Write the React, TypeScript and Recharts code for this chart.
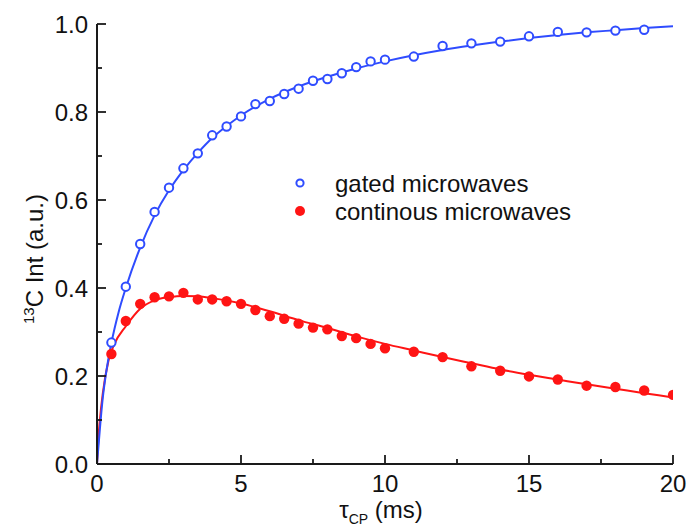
import React from 'react';
import { ComposedChart, Line, Scatter, XAxis, YAxis } from 'recharts';

// ---- data ----
const gatedT = [0.5, 1, 1.5, 2, 2.5, 3, 3.5, 4, 4.5, 5, 5.5, 6, 6.5, 7, 7.5, 8, 8.5, 9, 9.5, 10, 11, 12, 13, 14, 15, 16, 17, 18, 19];
const gatedInt = [0.276, 0.403, 0.5, 0.573, 0.628, 0.672, 0.706, 0.747, 0.767, 0.79, 0.818, 0.825, 0.841, 0.853, 0.871, 0.875, 0.888, 0.902, 0.915, 0.919, 0.926, 0.95, 0.956, 0.96, 0.972, 0.982, 0.981, 0.985, 0.987];

const contT = [0.5, 1, 1.5, 2, 2.5, 3, 3.5, 4, 4.5, 5, 5.5, 6, 6.5, 7, 7.5, 8, 8.5, 9, 9.5, 10, 11, 12, 13, 14, 15, 16, 17, 18, 19, 20];
const contInt = [0.25, 0.325, 0.364, 0.379, 0.381, 0.389, 0.374, 0.374, 0.37, 0.364, 0.35, 0.336, 0.33, 0.319, 0.31, 0.306, 0.291, 0.286, 0.273, 0.263, 0.255, 0.243, 0.222, 0.212, 0.199, 0.192, 0.178, 0.175, 0.167, 0.157];

const gatedFitT = [0, 0.1, 0.2, 0.3, 0.5, 0.75, 1, 1.5, 2, 2.5, 3, 3.5, 4, 4.5, 5, 6, 7, 8, 9, 10, 11, 12, 13, 14, 15, 16, 17, 18, 19, 20];
const gatedFitInt = [0, 0.08, 0.15, 0.2, 0.275, 0.345, 0.4, 0.492, 0.565, 0.622, 0.668, 0.707, 0.741, 0.768, 0.792, 0.83, 0.858, 0.88, 0.899, 0.915, 0.929, 0.941, 0.951, 0.96, 0.968, 0.975, 0.981, 0.986, 0.991, 0.995];

const contFitT = [0, 0.05, 0.1, 0.2, 0.4, 0.6, 1, 1.5, 2, 2.5, 3, 3.5, 4, 5, 6, 7, 8, 9, 10, 11, 12, 13, 14, 15, 16, 17, 18, 19, 20];
const contFitInt = [0, 0.06, 0.1, 0.16, 0.235, 0.272, 0.313, 0.353, 0.372, 0.379, 0.382, 0.381, 0.377, 0.365, 0.347, 0.327, 0.309, 0.29, 0.273, 0.258, 0.243, 0.229, 0.215, 0.203, 0.192, 0.181, 0.171, 0.161, 0.151];

const xTicks = [0, 2.5, 5, 7.5, 10, 12.5, 15, 17.5, 20];
const xMajor = [0, 5, 10, 15, 20];
const yTicks = [0, 0.1, 0.2, 0.3, 0.4, 0.5, 0.6, 0.7, 0.8, 0.9, 1.0];
const yMajor = [0, 0.2, 0.4, 0.6, 0.8, 1.0];

const seriesNames = ['gated microwaves', 'continous microwaves'];

const BLUE = '#2f4cff';
const RED = '#ff1414';
const AXIS = '#1a1a1a';
const FONT = '"Liberation Sans", Arial, Helvetica, sans-serif';

const toPoints = (ts: number[], vs: number[]) => ts.map((t, i) => ({ t, v: vs[i] }));
const gatedData = toPoints(gatedT, gatedInt);
const contData = toPoints(contT, contInt);
const gatedFit = toPoints(gatedFitT, gatedFitInt);
const contFit = toPoints(contFitT, contFitInt);

const isMajor = (list: number[], v: number) => list.some((m) => Math.abs(m - v) < 1e-6);
const fmtY = (v: number) => v.toFixed(1);

const BottomTick = (p: any) => {
  const v = p.payload.value;
  const major = isMajor(xMajor, v);
  return (
    <g>
      <line x1={p.x} x2={p.x} y1={p.y} y2={p.y - (major ? 9 : 5)} stroke={AXIS} strokeWidth={1.8} />
      {major && (
        <text x={p.x} y={p.y + 28} textAnchor="middle" fontSize={24} fontFamily={FONT} fill="#111">
          {String(v)}
        </text>
      )}
    </g>
  );
};

const TopTick = (p: any) => (
  <line x1={p.x} x2={p.x} y1={p.y} y2={p.y + 9} stroke={AXIS} strokeWidth={1.8} />
);

const LeftTick = (p: any) => {
  const v = p.payload.value;
  const major = isMajor(yMajor, v);
  return (
    <g>
      <line x1={p.x} x2={p.x + (major ? 9 : 5)} y1={p.y} y2={p.y} stroke={AXIS} strokeWidth={1.8} />
      {major && (
        <text x={p.x - 9} y={p.y + 8.6} textAnchor="end" fontSize={24} fontFamily={FONT} fill="#111">
          {fmtY(v)}
        </text>
      )}
    </g>
  );
};

const RightTick = (p: any) => (
  <line x1={p.x} x2={p.x - 9} y1={p.y} y2={p.y} stroke={AXIS} strokeWidth={1.8} />
);

const OpenCircle = (p: any) => (
  <circle cx={p.cx} cy={p.cy} r={4.2} fill="#fff" stroke={BLUE} strokeWidth={2} />
);
const FilledCircle = (p: any) => <circle cx={p.cx} cy={p.cy} r={5.2} fill={RED} />;

const YLabel = () => (
  <text
    x={43}
    y={259}
    transform="rotate(-90, 43, 259)"
    textAnchor="middle"
    fontSize={24}
    fontFamily={FONT}
    fill="#111"
  >
    <tspan fontSize={15} dy={-9}>13</tspan>
    <tspan dy={9}>C Int (a.u.)</tspan>
  </text>
);

const XLabel = () => (
  <text x={381} y={518} textAnchor="middle" fontSize={24} fontFamily={FONT} fill="#111">
    τ
    <tspan fontSize={14} dy={6}>CP</tspan>
    <tspan dy={-6}> (ms)</tspan>
  </text>
);

export default function App() {
  return (
    <div style={{ position: 'absolute', left: 0, top: 0, width: 687, height: 529, background: '#fff' }}>
      <ComposedChart width={687} height={529} margin={{ top: 24, right: 14, bottom: 35, left: 37 }}>
        <XAxis
          xAxisId="b"
          type="number"
          dataKey="t"
          domain={[0, 20]}
          allowDataOverflow
          ticks={xTicks}
          interval={0}
          tickSize={0}
          tickMargin={0}
          tickLine={false}
          tick={(p: any) => <BottomTick {...p} />}
          axisLine={{ stroke: AXIS, strokeWidth: 2 }}
          height={30}
          label={{ content: () => <XLabel /> }}
        />
        <XAxis
          xAxisId="t"
          orientation="top"
          type="number"
          dataKey="t"
          domain={[0, 20]}
          allowDataOverflow
          ticks={xTicks}
          interval={0}
          tickSize={0}
          tickMargin={0}
          tickLine={false}
          tick={(p: any) => <TopTick {...p} />}
          axisLine={{ stroke: AXIS, strokeWidth: 2 }}
          height={0}
        />
        <YAxis
          yAxisId="l"
          type="number"
          dataKey="v"
          domain={[0, 1]}
          allowDataOverflow
          ticks={yTicks}
          interval={0}
          tickSize={0}
          tickMargin={0}
          tickLine={false}
          tick={(p: any) => <LeftTick {...p} />}
          axisLine={{ stroke: AXIS, strokeWidth: 2 }}
          width={60}
          label={{ content: () => <YLabel /> }}
        />
        <YAxis
          yAxisId="r"
          orientation="right"
          type="number"
          dataKey="v"
          domain={[0, 1]}
          allowDataOverflow
          ticks={yTicks}
          interval={0}
          tickSize={0}
          tickMargin={0}
          tickLine={false}
          tick={(p: any) => <RightTick {...p} />}
          axisLine={{ stroke: AXIS, strokeWidth: 2 }}
          width={0}
        />
        <Line
          xAxisId="b"
          yAxisId="l"
          data={contFit}
          dataKey="v"
          type="monotone"
          stroke={RED}
          strokeWidth={2}
          dot={false}
          activeDot={false}
          legendType="none"
          isAnimationActive={false}
        />
        <Line
          xAxisId="t"
          yAxisId="r"
          data={gatedFit}
          dataKey="v"
          type="monotone"
          stroke={BLUE}
          strokeWidth={2}
          dot={false}
          activeDot={false}
          legendType="none"
          isAnimationActive={false}
        />
        <Scatter
          xAxisId="b"
          yAxisId="l"
          name={seriesNames[1]}
          data={contData}
          dataKey="v"
          shape={FilledCircle}
          isAnimationActive={false}
        />
        <Scatter
          xAxisId="t"
          yAxisId="r"
          name={seriesNames[0]}
          data={gatedData}
          dataKey="v"
          shape={OpenCircle}
          isAnimationActive={false}
        />
      </ComposedChart>
      <div
        style={{
          position: 'absolute',
          left: 293,
          top: 170,
          fontFamily: FONT,
          fontSize: 24,
          color: '#111',
          lineHeight: '28px',
        }}
      >
        <div style={{ display: 'flex', alignItems: 'center', whiteSpace: 'nowrap' }}>
          <svg width={14} height={14} style={{ marginRight: 28, position: 'relative', top: -1 }}>
            <circle cx={7} cy={7} r={3.6} fill="#fff" stroke={BLUE} strokeWidth={2} />
          </svg>
          <span>{seriesNames[0]}</span>
        </div>
        <div style={{ display: 'flex', alignItems: 'center', whiteSpace: 'nowrap' }}>
          <svg width={14} height={14} style={{ marginRight: 28, position: 'relative', top: -1 }}>
            <circle cx={7} cy={7} r={5} fill={RED} />
          </svg>
          <span>{seriesNames[1]}</span>
        </div>
      </div>
    </div>
  );
}
